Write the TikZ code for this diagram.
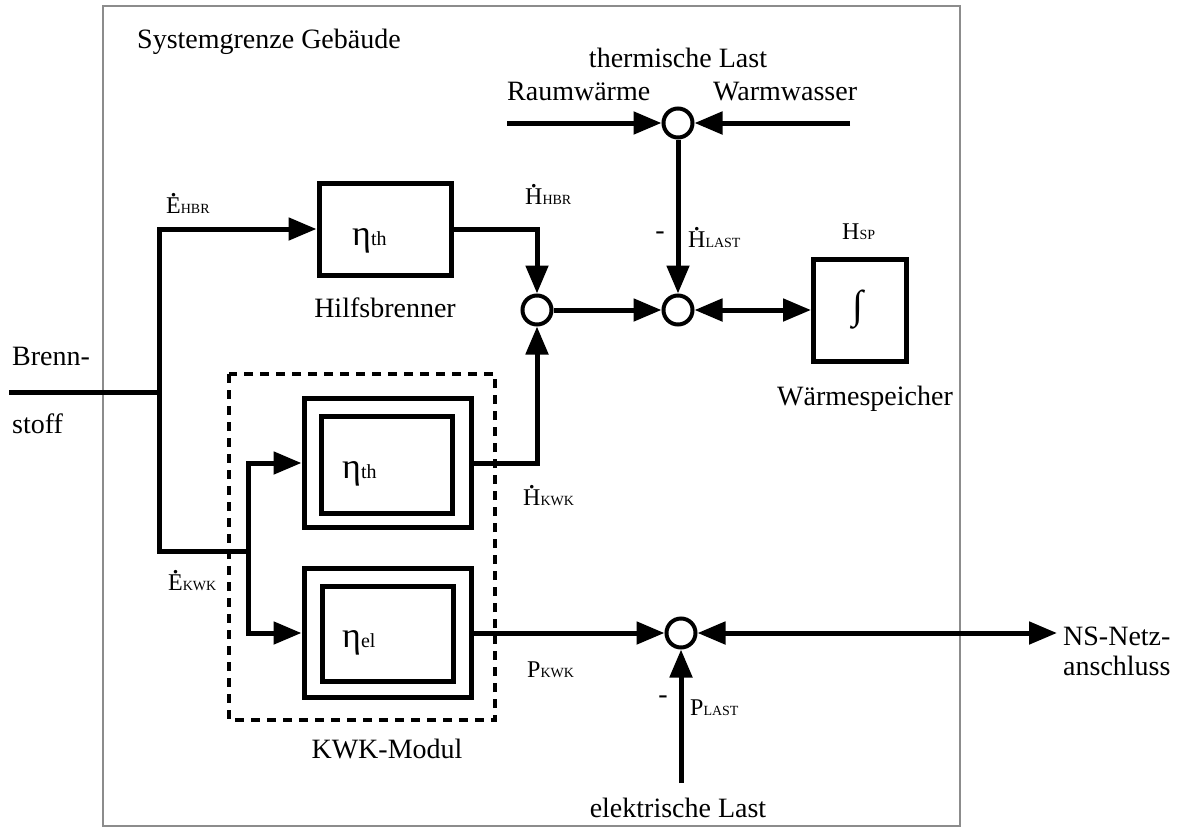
\documentclass[tikz,border=0pt]{standalone}
\usepackage{fontspec}
\setmainfont{Liberation Serif}
\usetikzlibrary{arrows.meta}
\newcommand\qsym[2]{#1{\fontsize{14}{16}\selectfont #2}}
\newcommand\dotq[1]{\setbox0\hbox{#1}\hbox{\rlap{\hbox to\wd0{\hss\raisebox{\dimexpr\ht0+1pt\relax}{\fontsize{30}{30}\selectfont.}\hss}}\box0}}
\newcommand\etaq[1]{{\fontsize{36}{40}\selectfont η}{\fontsize{20}{24}\selectfont #1}}
\begin{document}
\begin{tikzpicture}[x=1pt,y=-1pt,
  conn/.style={line width=5pt},
  arr/.style={conn,-{Triangle[length=28pt,width=22pt]}},
  darr/.style={conn,{Triangle[length=28pt,width=22pt]}-{Triangle[length=28pt,width=22pt]}},
  sumpt/.style={circle,draw,line width=4pt,minimum size=29pt,inner sep=0pt},
  blk/.style={draw,line width=5pt,inner sep=0pt},
  lbl/.style={font=\fontsize{28}{34}\selectfont,inner sep=0pt},
  sym/.style={font=\fontsize{24}{28}\selectfont,inner sep=0pt},
]
\useasboundingbox (0,0) rectangle (1179,828);
% system boundary
\draw[line width=2pt,color=black!45] (103,6) rectangle (960,826);
\draw[line width=4.5pt,dash pattern=on 9pt off 7pt] (229,374) rectangle (495,720);

% blocks
\node[blk,minimum width=132pt,minimum height=92pt] (hbr) at (385,229) {};
\node[blk,minimum width=93pt,minimum height=102pt] (int) at (860,310) {};
\node[blk,minimum width=167pt,minimum height=129pt] (kth) at (387.5,463) {};
\node[blk,minimum width=131pt,minimum height=97pt] (kthi) at (387,465) {};
\node[blk,minimum width=167pt,minimum height=129pt] (kel) at (387.5,633) {};
\node[blk,minimum width=131pt,minimum height=95pt] (keli) at (387.5,634) {};

% summing points
\node[sumpt] (s0) at (678,123) {};
\node[sumpt] (s1) at (537,310) {};
\node[sumpt] (s2) at (678,310) {};
\node[sumpt] (s3) at (681,633) {};

% free ends
\coordinate (brenn) at (9,392);
\coordinate (j1) at (159,392);
\coordinate (j2) at (159,551);
\coordinate (j3) at (248,551);
\coordinate (raum) at (507,123);
\coordinate (warm) at (850,123);
\coordinate (ns) at (1057,633);
\coordinate (elast) at (681,783);

% connectors
\draw[conn] (brenn) -- (j1);
\draw[conn,line join=miter] (j1) -- (j2) -- (j3);
\draw[arr,line join=miter] (j1) |- (hbr.west);
\draw[arr,line join=miter] (j3) |- (kth.west);
\draw[arr,line join=miter] (j3) |- (kel.west);
\draw[arr,line join=miter] (hbr.east) -| (s1);
\draw[arr,line join=miter] (kth.east) -| (s1);
\draw[arr] (s1) -- (s2);
\draw[darr] (s2) -- (int);
\draw[arr] (raum) -- (s0);
\draw[arr] (warm) -- (s0);
\draw[arr] (s0) -- (s2);
\draw[arr] (kel.east) -- (s3);
\draw[darr] (s3) -- (ns);
\draw[arr] (elast) -- (s3);

% block contents
\node[inner sep=0pt,anchor=base west] (eh) at (352,245) {\etaq{th}};
\node[inner sep=0pt,anchor=base west] (ek) at (342,478) {\etaq{th}};
\node[inner sep=0pt,anchor=base west] (ee) at (342,647) {\etaq{el}};
\node[inner sep=0pt] (intsym) at (858,310) {\fontsize{40}{44}\selectfont ∫};

% texts
\node[lbl,anchor=base west] (sysg) at (137,48) {Systemgrenze Gebäude};
\node[lbl,anchor=base] (thl) at (678,67) {thermische Last};
\node[lbl,anchor=base west] (rw) at (507,100) {Raumwärme};
\node[lbl,anchor=base west] (ww) at (713,100) {Warmwasser};
\node[lbl,anchor=base west] (br1) at (12,365) {Brenn-};
\node[lbl,anchor=base west] (br2) at (12,433) {stoff};
\node[lbl,anchor=base] (hbrl) at (385,317) {Hilfsbrenner};
\node[lbl,anchor=base] (wsl) at (865,405) {Wärmespeicher};
\node[lbl,anchor=base] (kwkl) at (387,758) {KWK-Modul};
\node[lbl,anchor=base] (ell) at (678,817) {elektrische Last};
\node[lbl,anchor=base west] (ns1) at (1063,645) {NS-Netz-};
\node[lbl,anchor=base west] (ns2) at (1063,675) {anschluss};

% symbol labels
\node[sym,anchor=base west] (lehbr) at (166,213) {\qsym{\dotq{E}}{HBR}};
\node[sym,anchor=base west] (lhhbr) at (525,204) {\qsym{\dotq{H}}{HBR}};
\node[sym,anchor=base west] (lhlast) at (688,247) {\qsym{\dotq{H}}{LAST}};
\node[lbl] (m1) at (660,236) {-};
\node[sym,anchor=base west] (lhsp) at (842,239) {\qsym{H}{SP}};
\node[sym,anchor=base west] (lhkwk) at (523,505) {\qsym{\dotq{H}}{KWK}};
\node[sym,anchor=base west] (lekwk) at (168,590) {\qsym{\dotq{E}}{KWK}};
\node[sym,anchor=base west] (lpkwk) at (527,677) {\qsym{P}{KWK}};
\node[sym,anchor=base west] (lplast) at (690,715) {\qsym{P}{LAST}};
\node[lbl] (m2) at (663,700) {-};
\end{tikzpicture}
\end{document}
